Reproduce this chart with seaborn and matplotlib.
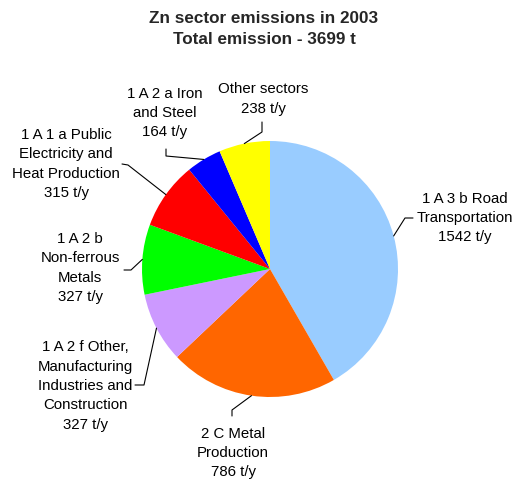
import numpy as np
import matplotlib
matplotlib.use("Agg")
import matplotlib.pyplot as plt
import seaborn as sns

sns.set_style("white")
plt.rcParams['font.family'] = ['Liberation Sans', 'DejaVu Sans']

title_lines = ["Zn sector emissions in 2003", "Total emission - 3699 t"]
categories = ["1 A 3 b Road\nTransportation",
              "2 C Metal\nProduction",
              "1 A 2 f Other,\nManufacturing\nIndustries and\nConstruction",
              "1 A 2 b\nNon-ferrous\nMetals",
              "1 A 1 a Public\nElectricity and\nHeat Production",
              "1 A 2 a Iron\nand Steel",
              "Other sectors"]
values = [1542, 786, 327, 327, 315, 164, 238]
colors = ["#99CCFF", "#FF6600", "#CC99FF", "#00FF00", "#FF0000", "#0000FF", "#FFFF00"]

W, H = 517, 485
fig = plt.figure(figsize=(W / 100, H / 100), dpi=100)
ax = fig.add_axes([0, 0, 1, 1])

cx, cy, R = 270, 270, 128
wedges, _ = ax.pie(values, colors=colors, startangle=-90, counterclock=True,
                   center=(cx, cy), radius=R, frame=True,
                   wedgeprops=dict(linewidth=0))
ax.set_xlim(0, W)
ax.set_ylim(H, 0)
ax.set_aspect("equal")
ax.axis("off")

label_pos = [(465, 218), (233, 453), (85, 386), (80, 268), (66, 164), (165, 113), (263, 99)]
elbows = [[(413, 219), (405, 219)],
          [(232, 417), (232, 411)],
          [(135, 386), (144, 386)],
          [(124, 271), (131, 271)],
          [(122, 165), (128, 166)],
          [(166, 150), (166, 157)],
          [(262, 123), (262, 133)]]

for w, cat, v, (lx, ly), el in zip(wedges, categories, values, label_pos, elbows):
    mid = np.deg2rad((w.theta1 + w.theta2) / 2)
    ex, ey = cx + R * np.cos(mid), cy + R * np.sin(mid)
    xs = [el[0][0], el[1][0], ex]
    ys = [el[0][1], el[1][1], ey]
    ax.plot(xs, ys, color="black", lw=0.8)
    ax.text(lx, ly, f"{cat}\n{v} t/y", ha="center", va="center",
            fontsize=10.8, linespacing=1.48, color="black")

ax.text(264, 29, "\n".join(title_lines), ha="center", va="center",
        fontsize=12.3, fontweight="bold", linespacing=1.42)

fig.savefig("out.png", dpi=100)
